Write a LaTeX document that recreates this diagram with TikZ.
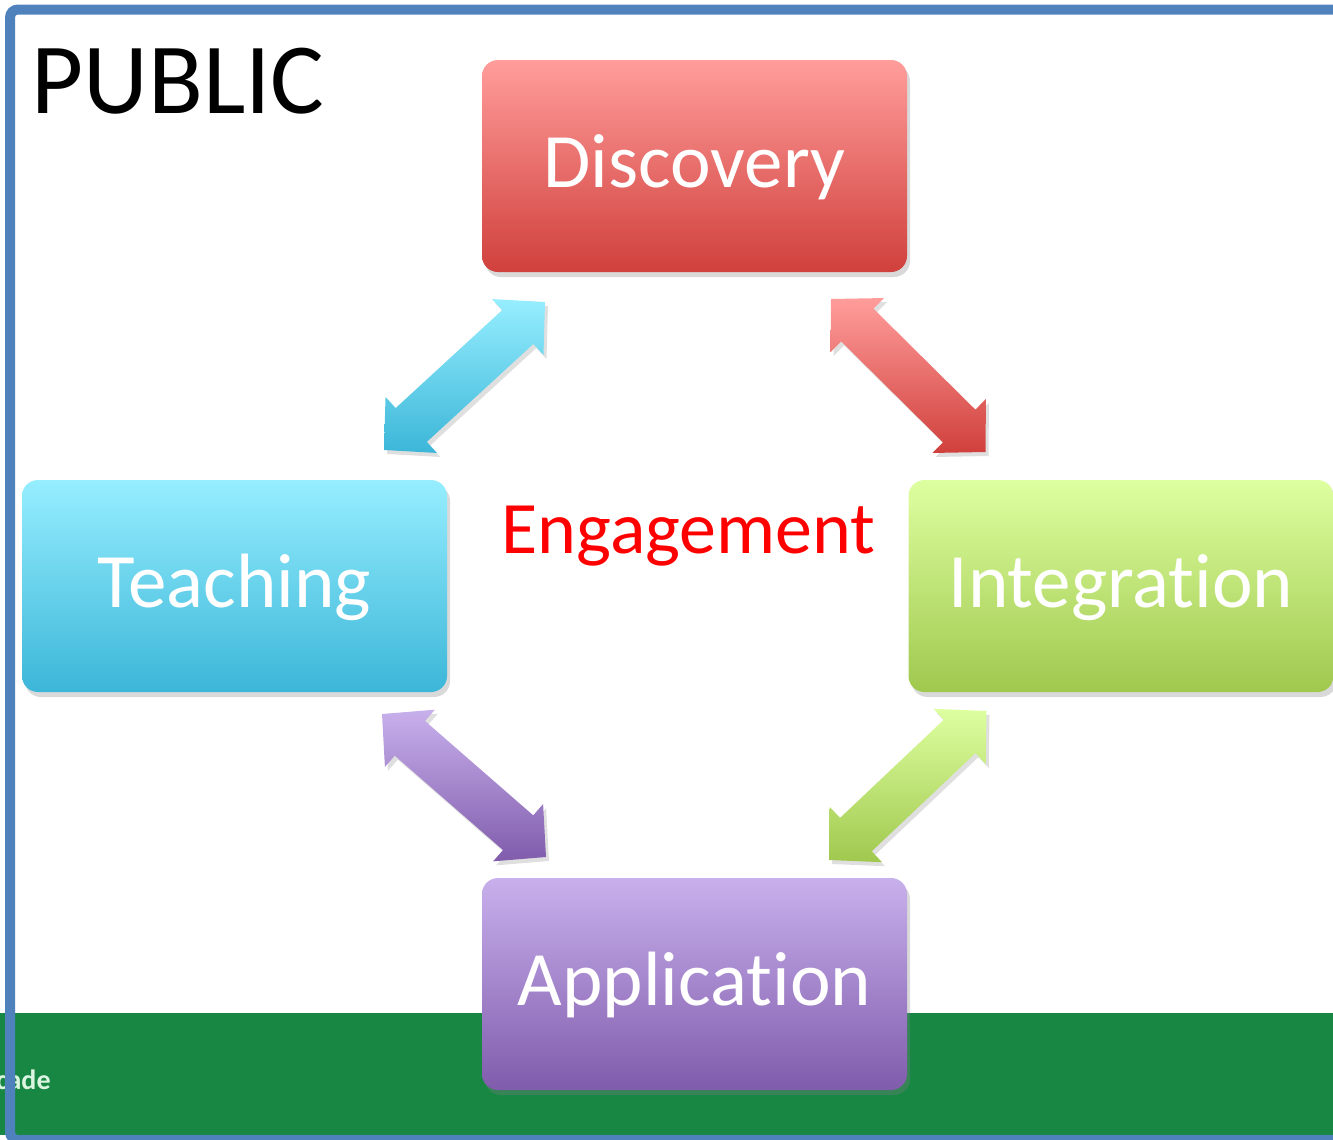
\documentclass[tikz,border=0pt]{standalone}
\usepackage{fontspec}
\setmainfont{Carlito}[Ligatures=CommonOff]
\usetikzlibrary{calc}
\usetikzlibrary{shadows}

\definecolor{discTop}{RGB}{255,157,155}
\definecolor{discBot}{RGB}{208,64,60}
\definecolor{teachTop}{RGB}{150,238,255}
\definecolor{teachBot}{RGB}{60,182,216}
\definecolor{integTop}{RGB}{222,255,160}
\definecolor{integBot}{RGB}{160,200,78}
\definecolor{appTop}{RGB}{200,176,236}
\definecolor{appBot}{RGB}{128,92,172}
\definecolor{frameblue}{RGB}{79,129,189}
\definecolor{bandgreen}{RGB}{24,135,68}
\definecolor{footmint}{RGB}{220,245,225}

\tikzset{
  stagebox/.style={rounded corners=8pt, minimum width=212.5pt, minimum height=106pt,
    inner sep=0pt, outer sep=0pt, text=white, font=\fontsize{38.5}{46}\selectfont,
    text height=21pt, text depth=0pt,
    drop shadow={opacity=0.3, shadow xshift=1.5pt, shadow yshift=-2.5pt}},
  arrowshadow/.style={drop shadow={opacity=0.25, shadow xshift=1.5pt, shadow yshift=-2pt}}
}

% double block arrow: from, to, top colour, bottom colour
\newcommand{\dblarrow}[4]{%
  \coordinate (ha) at ($(#1)!18.5pt!(#2)$);
  \coordinate (hb) at ($(#2)!18.5pt!(#1)$);
  \shade[top color=#3, bottom color=#4, arrowshadow]
    (#1) -- ($(ha)!19pt!90:(#2)$) -- ($(ha)!11.5pt!90:(#2)$)
    -- ($(hb)!11.5pt!-90:(#1)$) -- ($(hb)!19pt!-90:(#1)$) -- (#2)
    -- ($(hb)!19pt!90:(#1)$) -- ($(hb)!11.5pt!90:(#1)$)
    -- ($(ha)!11.5pt!-90:(#2)$) -- ($(ha)!19pt!-90:(#2)$) -- cycle;}

\begin{document}
\begin{tikzpicture}[x=0.5pt,y=-0.5pt]
\useasboundingbox (0,0) rectangle (1333,1140);
\clip (0,0) rectangle (1333,1140);
\fill[bandgreen] (0,1013) rectangle (1333,1135);
\node[anchor=base east, inner sep=0pt, text=footmint, font=\bfseries\fontsize{14}{16}\selectfont] (foot) at (51,1089) {cade};
\draw[frameblue, line width=5pt, rounded corners=4pt] (1400,1140) -- (10,1140) -- (10,9.5) -- (1400,9.5);
\node[anchor=base west, inner sep=0pt, font=\fontsize{50.4}{58}\selectfont] (public) at (31,113) {PUBLIC};

\node[stagebox, top color=discTop, bottom color=discBot] (disc) at (694.5,166) {Discovery};
\node[stagebox, top color=teachTop, bottom color=teachBot] (teach) at (234.5,586) {Teaching};
\node[stagebox, top color=integTop, bottom color=integBot] (integ) at (1121,586) {Integration};
\node[stagebox, top color=appTop, bottom color=appBot] (app) at (694.5,984) {Application};
\node[anchor=base, inner sep=0pt, text=red, font=\fontsize{37}{44}\selectfont] (engage) at (688.5,553) {Engagement};

\coordinate (td1) at ($(teach.north east)+(-63,-30)$);
\coordinate (td2) at ($(disc.south west)+(63,30)$);
\coordinate (di1) at ($(disc.south east)+(-76,27)$);
\coordinate (di2) at ($(integ.north west)+(77,-28)$);
\coordinate (ta1) at ($(teach.south east)+(-65,22)$);
\coordinate (ta2) at ($(app.north west)+(64,-21)$);
\coordinate (ai1) at ($(app.north east)+(-78,-18)$);
\coordinate (ai2) at ($(integ.south west)+(78,19)$);

\dblarrow{td1}{td2}{teachTop}{teachBot}
\dblarrow{di1}{di2}{discTop}{discBot}
\dblarrow{ta1}{ta2}{appTop}{appBot}
\dblarrow{ai1}{ai2}{integTop}{integBot}
\end{tikzpicture}
\end{document}
